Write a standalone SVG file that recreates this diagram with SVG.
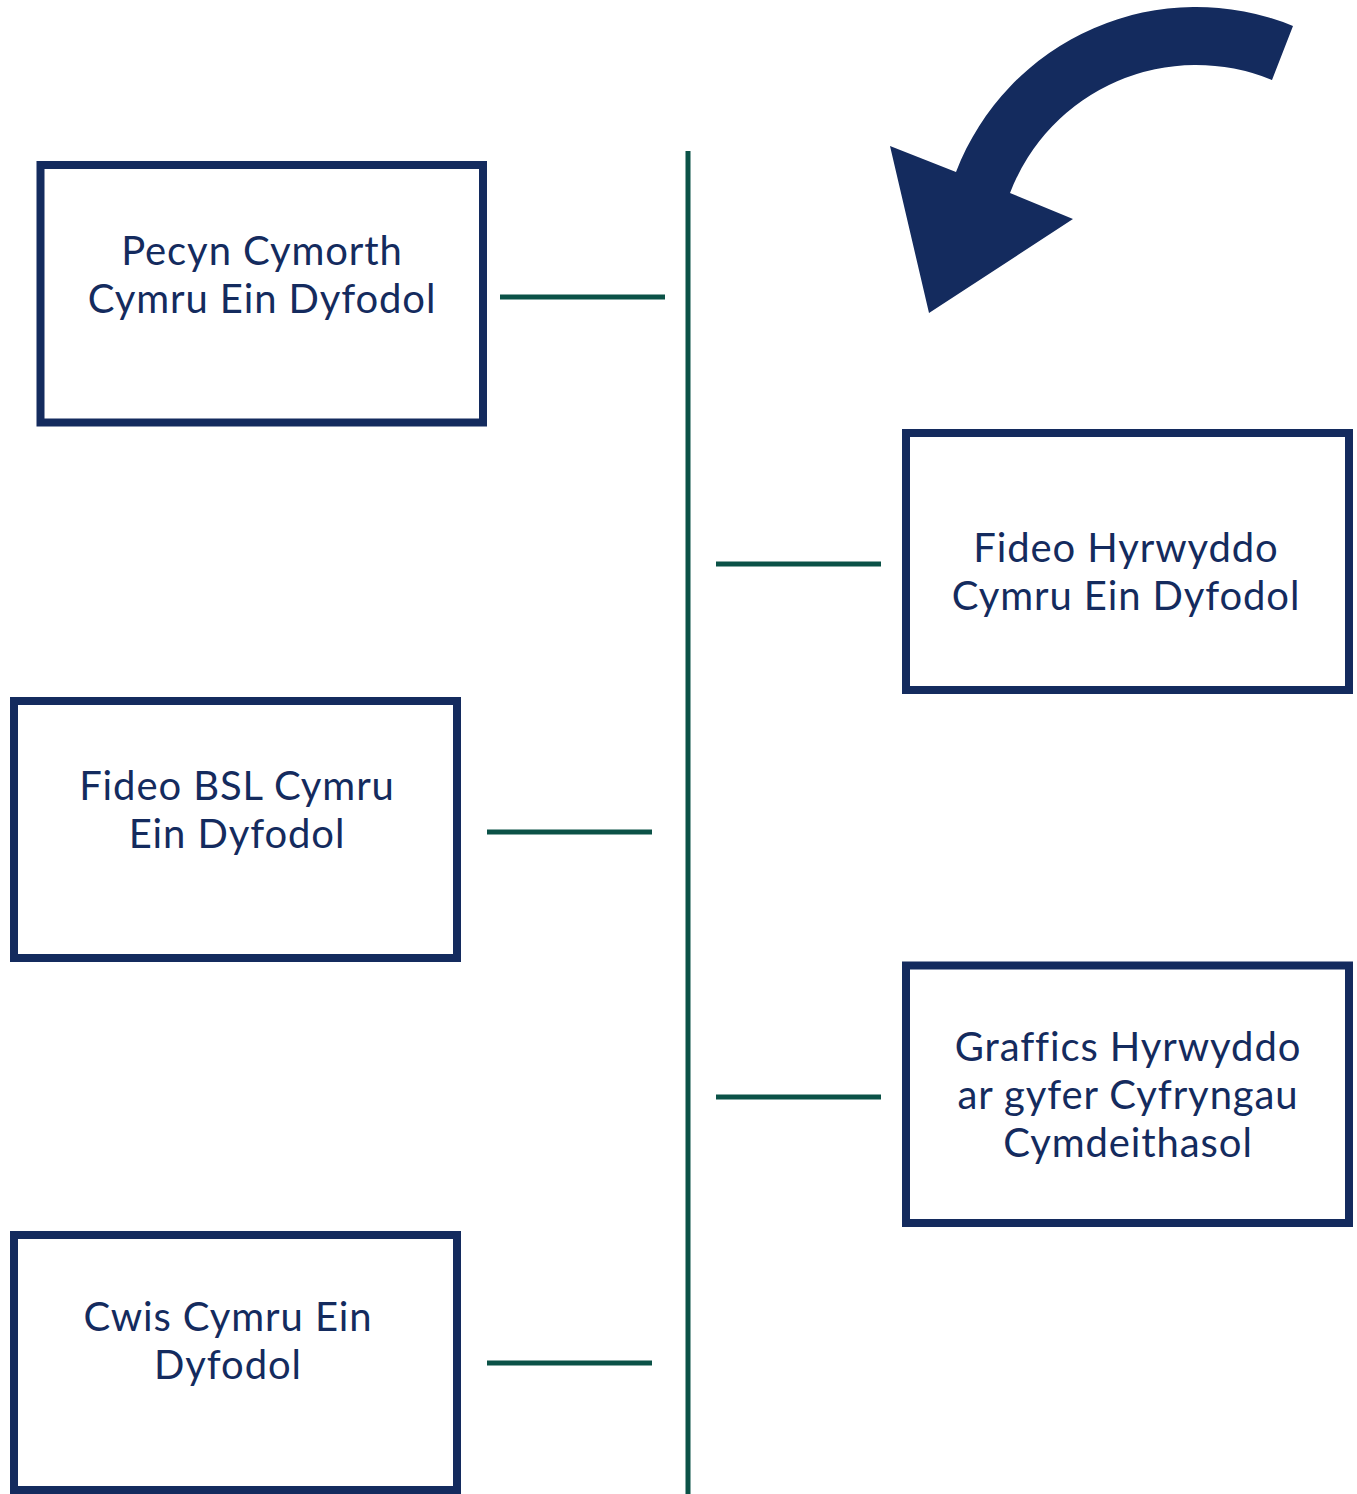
<svg xmlns="http://www.w3.org/2000/svg" width="1357" height="1494" viewBox="0 0 1357 1494">
<style>
.box{fill:#ffffff;stroke:#142b5e;stroke-width:8}
.lbl{font-family:"Lato","Liberation Sans",sans-serif;font-size:40px;font-weight:400;letter-spacing:0.9px;fill:#142b5e;text-anchor:middle}
.conn{stroke:#0b5247;stroke-width:5;fill:none}
</style>
<rect width="1357" height="1494" fill="#ffffff"/>
<g id="connectors">
<line class="conn" x1="688" y1="151" x2="688" y2="1494"/>
<line class="conn" x1="500" y1="297" x2="665" y2="297"/>
<line class="conn" x1="716" y1="564" x2="881" y2="564"/>
<line class="conn" x1="487" y1="832" x2="652" y2="832"/>
<line class="conn" x1="716" y1="1097" x2="881" y2="1097"/>
<line class="conn" x1="487" y1="1363" x2="652" y2="1363"/>
</g>
<g id="arrow">
<path fill="#142b5e" d="M1293,26 A257,257 0 0,0 956,172 L890,146 L929,313 L1073,219 L1010,193 A199,199 0 0,1 1272,80 Z"/>
</g>
<g id="node1">
<rect class="box" x="40.5" y="165" width="442.5" height="257.5"/>
<text class="lbl" x="262" y="265">Pecyn Cymorth</text>
<text class="lbl" x="262" y="313">Cymru Ein Dyfodol</text>
</g>
<g id="node2">
<rect class="box" x="906" y="433" width="443" height="257"/>
<text class="lbl" x="1126" y="562">Fideo Hyrwyddo</text>
<text class="lbl" x="1126" y="610">Cymru Ein Dyfodol</text>
</g>
<g id="node3">
<rect class="box" x="14" y="701" width="443" height="257"/>
<text class="lbl" x="237" y="800">Fideo BSL Cymru</text>
<text class="lbl" x="237" y="848">Ein Dyfodol</text>
</g>
<g id="node4">
<rect class="box" x="906" y="965.5" width="443" height="257.5"/>
<text class="lbl" x="1128" y="1061">Graffics Hyrwyddo</text>
<text class="lbl" x="1128" y="1109">ar gyfer Cyfryngau</text>
<text class="lbl" x="1128" y="1157">Cymdeithasol</text>
</g>
<g id="node5">
<rect class="box" x="14" y="1235" width="443" height="255"/>
<text class="lbl" x="228" y="1331">Cwis Cymru Ein</text>
<text class="lbl" x="228" y="1379">Dyfodol</text>
</g>
</svg>
